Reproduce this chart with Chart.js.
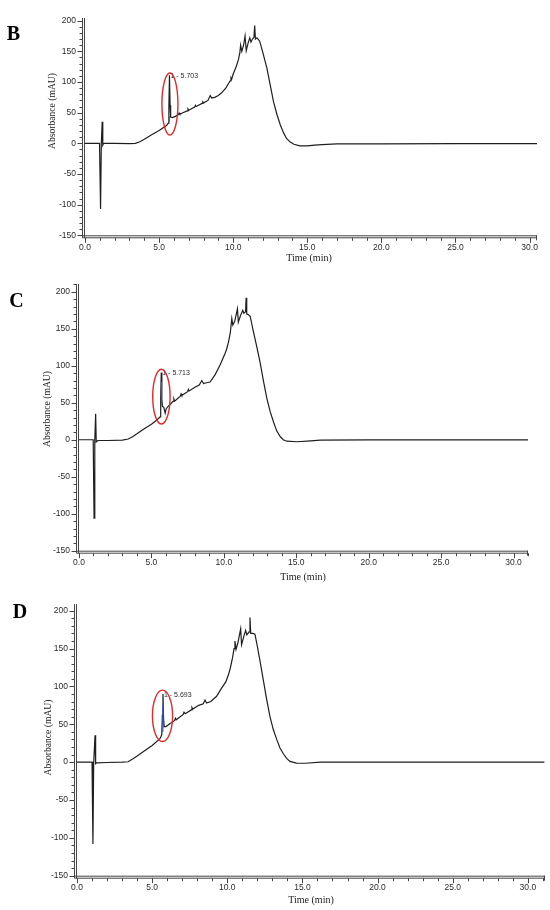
<!DOCTYPE html>
<html><head><meta charset="utf-8">
<script src="https://cdn.jsdelivr.net/npm/chart.js@4.4.1/dist/chart.umd.min.js"></script>
<style>
html,body{margin:0;padding:0;background:#fff;}
#wrap{position:relative;width:550px;height:910px;overflow:hidden;background:#fff;}
.pan{position:absolute;left:0;width:550px;}
</style></head><body>
<div id="wrap">
<div class="pan" style="top:0;height:270px"><canvas id="cB"></canvas></div>
<div class="pan" style="top:270px;height:320px"><canvas id="cC"></canvas></div>
<div class="pan" style="top:590px;height:320px"><canvas id="cD"></canvas></div>
</div>
<script>
// ---------- data ----------
const timeB = [0,0.98,1.05,1.1,1.16,1.2,1.26,2.0,3.0,3.4,3.7,4.0,4.5,5.0,5.5,5.62,5.66,5.70,5.74,5.78,5.9,6.1,6.3,6.35,6.4,6.6,6.9,6.95,7.0,7.4,7.45,7.5,7.9,7.95,8.0,8.3,8.45,8.55,8.75,9.0,9.2,9.5,9.8,9.85,9.9,10.0,10.2,10.35,10.45,10.5,10.58,10.7,10.8,10.88,11.0,11.12,11.2,11.3,11.4,11.45,11.5,11.6,11.78,11.9,12.0,12.27,12.5,12.72,12.95,13.18,13.4,13.6,13.85,14.1,14.5,15.0,15.5,16.0,17.0,20.0,25.0,30.5];
const absB  = [0,0,-107,-1,35,-3,0,0,-0.5,0,2.5,6.5,14,21,29,33,60,111,62,43,42,44,47,49.5,47.5,50,53,56,54,59,62,60,65,67.5,66,70,78,74,75,78,82,90,102,107,105,113,125,136,148,160,150,160,175,151,163,172,165,170,173,192,170,172,167,157,148,123,95,68,47,30,17,8,2,-1.6,-4,-4,-3,-2,-1,-0.8,-0.5,-0.5];

const timeC = [0,0.98,1.04,1.09,1.15,1.19,1.3,2.0,3.0,3.4,3.7,4.0,4.5,5.0,5.4,5.6,5.64,5.68,5.72,5.76,5.85,5.95,6.02,6.2,6.5,6.55,6.6,7.0,7.05,7.1,7.5,7.55,7.6,8.0,8.3,8.48,8.6,8.8,9.05,9.4,9.74,10.09,10.2,10.32,10.45,10.55,10.62,10.75,10.94,11.0,11.15,11.31,11.38,11.5,11.54,11.58,11.7,11.82,12.0,12.25,12.5,12.75,12.97,13.2,13.43,13.65,13.9,14.1,14.35,15.05,16.0,16.65,20,25,31];
const absC  = [0,0,-106,-1,35,-3,-1,-1,-0.5,1,4,8,15,21,27,31,55,91,55,45,44,36,42,46,52,55,52,59,62,60,65,68,66,71,74,80,76,77,78,88,101,117,123,132,145,164,155,160,177,159,168,175,171,173,192,170,169,167,150,128,105,78,56,38,24,12,4,0,-2,-2.7,-1.5,-0.4,-0.3,-0.3,-0.3];

const timeD = [0,1.0,1.06,1.11,1.2,1.24,1.3,2.0,3.0,3.4,3.7,4.0,4.5,5.0,5.52,5.64,5.68,5.72,5.76,5.8,5.92,6.2,6.5,6.55,6.6,7.07,7.12,7.2,7.6,7.65,7.7,8.1,8.4,8.52,8.62,8.9,9.29,9.6,9.9,10.07,10.2,10.35,10.45,10.51,10.58,10.7,10.89,10.95,11.1,11.22,11.3,11.45,11.51,11.56,11.7,11.84,12.0,12.2,12.4,12.62,12.84,13.06,13.29,13.5,13.73,13.95,14.17,14.6,15.2,16.2,20,25,31.1];
const absD  = [0,0,-108,-1,35.5,-2,-1,-0.5,0,0.5,4,8,15,22,31,36,62,90,58,47,47,51,55,58,56,63,66,64,69,72,70,75,77,82,78,80,87,97,106,115,124,138,150,160,149,157,176,155,166,174,168,172,191,170,170,169,153,131,108,83,60,43,30,19,11,5,1,-1.3,-1.5,0,0,0,0];

// integration marks inside the labelled peak
const markTimeB = [5.67,5.69,5.72];
const markAbsB  = [36,44,40];
const markTimeC = [5.665,5.68,5.70];
const markAbsC  = [50,78,52];
const markTimeD = [5.70,5.72,5.74];
const markAbsD  = [40,75,46];

// peak annotations
const peakTimes  = [5.70,5.68,5.72];
const peakValues = [111,91,90];
const peakLabels = ['1 - 5.703','1 - 5.713','1 - 5.693'];

// axis ticks
const xTicks = [0,5,10,15,20,25,30];
const yTicks = [-150,-100,-50,0,50,100,150,200];
const panelLetters = ['B','C','D'];
const xTitle = 'Time (min)';
const yTitle = 'Absorbance (mAU)';

// ---------- layout (page coordinates) ----------
const layouts = [
  {id:'cB', top:0,   h:270, area:{left:85,right:537,top:18,bottom:235.3}, xMax:30.5, yMax:204.4,
   letter:[13.5,34.5], yT:[52,111], xT:[309,258], ell:{t:5.73,v:64,rt:0.54,rv:50.6}, markColor:'#7a3cc8'},
  {id:'cC', top:270, h:320, area:{left:79,right:528,top:284,bottom:550.7}, xMax:31.0, yMax:210.4,
   letter:[16.5,301.5], yT:[47,409], xT:[303,577.7], ell:{t:5.69,v:58.2,rt:0.6,rv:37}, markColor:'#3050d0'},
  {id:'cD', top:590, h:320, area:{left:77,right:545,top:599.3,bottom:875.7}, xMax:31.14, yMax:208.7,
   letter:[20,613], yT:[48,737.5], xT:[311,900], ell:{t:5.69,v:61.2,rt:0.67,rv:33.9}, markColor:'#3050d0'}
];
const series = [[timeB,absB],[timeC,absC],[timeD,absD]];
const marks = [[markTimeB,markAbsB],[markTimeC,markAbsC],[markTimeD,markAbsD]];

const toXY = (ts, vs) => ts.map((t,i)=>({x:t,y:vs[i]}));

const deco = {
  id:'deco',
  beforeDatasetsDraw(chart, args, o){
    const ctx = chart.ctx, xs = chart.scales.x, ys = chart.scales.y;
    ctx.save();
    ctx.fillStyle = '#2a2a2a';
    ctx.font = '7px "Liberation Sans", Arial, sans-serif';
    ctx.textAlign = 'left'; ctx.textBaseline = 'middle';
    ctx.fillText(o.peakLabel, xs.getPixelForValue(o.peakT) + 1, ys.getPixelForValue(o.peakV) + 1);
    ctx.restore();
  },
  afterDraw(chart, args, o){
    const ctx = chart.ctx, ca = chart.chartArea, xs = chart.scales.x, ys = chart.scales.y;
    const L = o.L, top = L.top;
    ctx.save();
    // axes (double lines)
    ctx.strokeStyle = '#444'; ctx.lineWidth = 1;
    const seg = (x1,y1,x2,y2)=>{ctx.beginPath();ctx.moveTo(x1,y1);ctx.lineTo(x2,y2);ctx.stroke();};
    seg(ca.left-0.5, ca.top, ca.left-0.5, ca.bottom+2.5);
    seg(ca.left-2.5, ca.top, ca.left-2.5, ca.bottom+2.5);
    seg(ca.left-2.5, ca.bottom+0.5, ca.right, ca.bottom+0.5);
    seg(ca.left-2.5, ca.bottom+2.5, ca.right, ca.bottom+2.5);
    seg(ca.right-0.5, ca.bottom, ca.right-0.5, ca.bottom+5);
    // x ticks: major every 5, minor every 1
    for (let t = 0; t <= xs.max + 1e-6; t += 1) {
      const px = Math.round(xs.getPixelForValue(t)) + 0.5;
      const len = (t % 5 === 0) ? 5 : 3;
      seg(px, ca.bottom+2.5, px, ca.bottom+2.5+len);
    }
    // y ticks: major every 50, minor every 10
    for (let v = -150; v <= ys.max + 1e-6; v += 10) {
      const py = Math.round(ys.getPixelForValue(v)) + 0.5;
      const len = (v % 50 === 0) ? 5 : 3;
      seg(ca.left-2.5, py, ca.left-2.5-len, py);
    }
    // red ellipse around labelled peak
    const e = o.L.ell;
    const cx = xs.getPixelForValue(e.t), cy = ys.getPixelForValue(e.v);
    const rx = Math.abs(xs.getPixelForValue(e.t+e.rt)-cx), ry = Math.abs(ys.getPixelForValue(e.v+e.rv)-cy);
    ctx.strokeStyle = '#e02a2a'; ctx.lineWidth = 1.4;
    ctx.beginPath(); ctx.ellipse(cx, cy, rx, ry, 0, 0, Math.PI*2); ctx.stroke();
    // titles
    ctx.fillStyle = '#000';
    ctx.textAlign = 'center'; ctx.textBaseline = 'middle';
    ctx.font = 'bold 20px "Liberation Serif", "Times New Roman", serif';
    ctx.fillText(o.letter, L.letter[0], L.letter[1]-top);
    ctx.fillStyle = '#1a1a1a';
    ctx.font = '10px "Liberation Serif", "Times New Roman", serif';
    ctx.fillText(xTitle, L.xT[0], L.xT[1]-top);
    ctx.save();
    ctx.translate(L.yT[0], L.yT[1]-top);
    ctx.rotate(-Math.PI/2);
    ctx.font = '9.6px "Liberation Serif", "Times New Roman", serif';
    ctx.fillText(yTitle, 0, 0);
    ctx.restore();
    ctx.restore();
  }
};

layouts.forEach((L, i) => {
  const a = L.area;
  const xH = 30;
  const pad = {left:0, top:a.top - L.top, right:550 - a.right, bottom:L.h - (a.bottom - L.top) - xH};
  new Chart(document.getElementById(L.id), {
    type:'line',
    data:{datasets:[
      {data:toXY(series[i][0], series[i][1]), borderColor:'#1e1e1e', borderWidth:1.2, pointRadius:0, tension:0, fill:false, order:2},
      {data:toXY(marks[i][0], marks[i][1]), borderColor:L.markColor, borderWidth:1, pointRadius:0, tension:0, fill:false, order:1}
    ]},
    options:{
      responsive:true, maintainAspectRatio:false, animation:false, events:[],
      layout:{padding:pad},
      plugins:{legend:{display:false}, tooltip:{enabled:false},
        deco:{L:L, letter:panelLetters[i], peakLabel:peakLabels[i], peakT:peakTimes[i], peakV:peakValues[i]}},
      scales:{
        x:{type:'linear', min:0, max:L.xMax,
           afterBuildTicks:s=>{ s.ticks = xTicks.map(v=>({value:v})); },
           afterFit:s=>{ s.height = xH; },
           grid:{display:false, drawTicks:false}, border:{display:false},
           ticks:{padding:7, color:'#2a2a2a', font:{family:'"Liberation Sans", Arial, sans-serif', size:8.5},
                  maxRotation:0, autoSkip:false, callback:v=>Number(v).toFixed(1)}},
        y:{type:'linear', min:-150, max:L.yMax,
           afterBuildTicks:s=>{ s.ticks = yTicks.map(v=>({value:v})); },
           afterFit:s=>{ s.width = a.left; },
           grid:{display:false, drawTicks:false}, border:{display:false},
           ticks:{padding:9, color:'#2a2a2a', font:{family:'"Liberation Sans", Arial, sans-serif', size:8.5},
                  autoSkip:false, callback:v=>String(v)}}
      }
    },
    plugins:[deco]
  });
});
</script>
</body></html>
